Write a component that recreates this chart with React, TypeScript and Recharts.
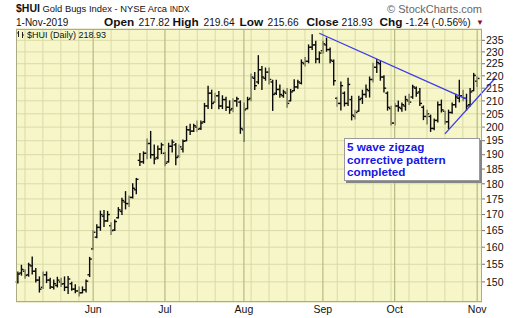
import { ComposedChart, Bar, XAxis, YAxis, CartesianGrid, ReferenceLine } from 'recharts';

// trading days shown on the chart (May 2 - Nov 1, 2019)
const tradingDays = [
    '2019-05-02', '2019-05-03', '2019-05-06', '2019-05-07', '2019-05-08', '2019-05-09', '2019-05-10',
    '2019-05-13', '2019-05-14', '2019-05-15', '2019-05-16', '2019-05-17', '2019-05-20', '2019-05-21',
    '2019-05-22', '2019-05-23', '2019-05-24', '2019-05-28', '2019-05-29', '2019-05-30', '2019-05-31',
    '2019-06-03', '2019-06-04', '2019-06-05', '2019-06-06', '2019-06-07', '2019-06-10', '2019-06-11',
    '2019-06-12', '2019-06-13', '2019-06-14', '2019-06-17', '2019-06-18', '2019-06-19', '2019-06-20',
    '2019-06-21', '2019-06-24', '2019-06-25', '2019-06-26', '2019-06-27', '2019-06-28',
    '2019-07-01', '2019-07-02', '2019-07-03', '2019-07-05', '2019-07-08', '2019-07-09', '2019-07-10',
    '2019-07-11', '2019-07-12', '2019-07-15', '2019-07-16', '2019-07-17', '2019-07-18', '2019-07-19',
    '2019-07-22', '2019-07-23', '2019-07-24', '2019-07-25', '2019-07-26', '2019-07-29', '2019-07-30',
    '2019-07-31',
    '2019-08-01', '2019-08-02', '2019-08-05', '2019-08-06', '2019-08-07', '2019-08-08', '2019-08-09',
    '2019-08-12', '2019-08-13', '2019-08-14', '2019-08-15', '2019-08-16', '2019-08-19', '2019-08-20',
    '2019-08-21', '2019-08-22', '2019-08-23', '2019-08-26', '2019-08-27', '2019-08-28', '2019-08-29',
    '2019-08-30',
    '2019-09-03', '2019-09-04', '2019-09-05', '2019-09-06', '2019-09-09', '2019-09-10', '2019-09-11',
    '2019-09-12', '2019-09-13', '2019-09-16', '2019-09-17', '2019-09-18', '2019-09-19', '2019-09-20',
    '2019-09-23', '2019-09-24', '2019-09-25', '2019-09-26', '2019-09-27', '2019-09-30',
    '2019-10-01', '2019-10-02', '2019-10-03', '2019-10-04', '2019-10-07', '2019-10-08', '2019-10-09',
    '2019-10-10', '2019-10-11', '2019-10-14', '2019-10-15', '2019-10-16', '2019-10-17', '2019-10-18',
    '2019-10-21', '2019-10-22', '2019-10-23', '2019-10-24', '2019-10-25', '2019-10-28', '2019-10-29',
    '2019-10-30', '2019-10-31',
    '2019-11-01',
];

const opens = [
    150.0, 152.5, 153.0, 152.0, 154.5, 153.0, 150.5, 148.5, 152.0, 150.5, 148.5, 149.0, 150.0, 149.5,
    148.5, 149.5, 148.0, 147.5, 147.0, 147.8, 152.0,
    159.5, 163.0, 166.0, 169.5, 168.0, 166.5, 165.2, 169.0, 171.0, 174.0, 173.5, 175.5, 178.0, 188.0,
    187.5, 190.5, 194.0, 190.0, 189.0, 192.0,
    190.5, 187.5, 193.0, 193.5, 189.5, 192.0, 195.0, 199.0, 198.5, 200.0, 199.5, 202.0, 208.0, 213.0,
    209.5, 212.0, 208.0, 210.5, 207.5, 207.0, 210.0, 209.5,
    199.0, 207.0, 211.0, 219.0, 217.5, 222.5, 219.0, 221.5, 217.5, 213.0, 214.5, 212.0, 213.0, 210.0,
    214.0, 215.5, 217.0, 225.0, 226.0, 232.0, 233.0, 227.0,
    230.5, 233.0, 231.0, 226.0, 211.0, 209.0, 213.0, 209.0, 210.5, 204.0, 206.0, 211.0, 212.5, 214.0,
    218.5, 223.5, 225.0, 219.5, 213.0, 207.0,
    201.5, 208.0, 207.0, 208.0, 210.0, 211.5, 215.0, 213.5, 207.5, 204.0, 204.0, 199.5, 202.5, 208.5,
    206.0, 202.0, 205.5, 208.5, 211.0, 212.0, 211.0, 208.5, 214.0,
    217.82,
];

const highs = [
    152.8, 154.7, 153.4, 155.3, 157.1, 153.8, 151.4, 152.8, 152.8, 151.0, 150.5, 151.3, 151.0, 151.4,
    151.5, 149.9, 149.2, 148.6, 148.6, 150.5, 157.0,
    165.0, 166.8, 171.1, 171.3, 171.0, 167.4, 168.3, 172.2, 175.2, 177.4, 176.0, 180.0, 181.8, 190.4,
    191.0, 195.6, 198.4, 193.5, 193.1, 194.1,
    190.9, 194.1, 195.3, 194.0, 193.5, 195.3, 200.3, 201.1, 201.1, 202.3, 202.3, 209.0, 215.8, 214.2,
    213.0, 213.7, 212.0, 211.4, 210.0, 210.8, 211.4, 210.0,
    209.2, 211.4, 220.7, 221.4, 228.4, 223.8, 223.2, 223.2, 218.2, 218.2, 216.3, 214.2, 214.9, 214.5,
    218.4, 218.2, 226.6, 227.6, 233.0, 237.5, 234.6, 230.0,
    234.6, 236.0, 231.7, 226.6, 211.4, 217.5, 213.5, 219.0, 211.8, 206.4, 211.8, 214.2, 216.3, 219.5,
    225.2, 226.8, 226.0, 220.0, 213.5, 207.9,
    209.0, 209.9, 209.2, 211.8, 212.6, 216.2, 215.5, 214.9, 208.0, 206.4, 204.5, 203.0, 209.6, 210.3,
    206.0, 206.4, 209.2, 212.6, 218.2, 214.2, 212.6, 214.9, 221.0,
    219.64,
];

const lows = [
    149.7, 151.9, 151.0, 151.6, 152.2, 150.0, 147.2, 148.2, 149.8, 148.2, 148.0, 148.6, 148.7, 147.6,
    146.8, 147.7, 147.0, 146.1, 147.0, 147.2, 151.5,
    159.2, 162.8, 165.1, 166.3, 167.9, 163.8, 165.0, 168.9, 170.0, 171.8, 172.6, 175.3, 176.7, 186.2,
    187.0, 188.6, 188.8, 186.8, 188.6, 190.4,
    186.2, 187.4, 191.0, 186.5, 189.0, 191.0, 195.0, 197.3, 198.4, 198.4, 199.1, 201.7, 207.0, 207.0,
    209.5, 206.9, 207.0, 206.3, 205.2, 205.8, 207.9, 197.7,
    194.7, 206.9, 210.0, 214.5, 216.8, 214.5, 218.2, 216.7, 206.3, 212.5, 211.4, 211.4, 207.5, 210.0,
    214.0, 215.0, 216.7, 224.0, 225.4, 231.0, 225.4, 225.4,
    229.5, 230.3, 225.4, 216.3, 207.9, 206.5, 208.0, 208.2, 202.7, 203.0, 206.0, 209.0, 211.4, 211.5,
    217.5, 221.4, 218.2, 213.5, 206.4, 200.8,
    200.8, 206.0, 206.0, 206.4, 208.6, 211.0, 211.8, 208.2, 202.8, 201.2, 198.4, 199.0, 201.9, 205.7,
    201.2, 199.5, 205.2, 207.5, 209.6, 210.0, 206.4, 208.0, 214.0,
    215.66,
];

const closes = [
    152.2, 153.5, 151.8, 154.8, 153.0, 150.5, 148.0, 152.0, 150.5, 148.6, 149.5, 150.5, 149.4, 148.5,
    150.8, 148.0, 147.5, 147.0, 147.8, 150.2, 156.5,
    164.5, 166.0, 170.0, 168.0, 170.0, 165.0, 167.8, 171.5, 174.5, 173.5, 175.5, 178.5, 181.5, 187.5,
    190.5, 194.0, 190.0, 188.5, 192.0, 193.5,
    187.0, 193.0, 194.5, 189.0, 192.8, 194.8, 199.0, 198.5, 200.5, 199.2, 201.5, 208.0, 213.0, 209.0,
    212.0, 208.0, 210.5, 207.5, 206.5, 210.0, 210.8, 199.5,
    206.5, 210.5, 219.5, 216.0, 222.5, 219.5, 221.5, 218.5, 212.5, 214.5, 212.5, 213.5, 209.0, 213.5,
    215.5, 217.5, 225.5, 226.0, 232.0, 233.0, 227.0, 229.5,
    233.5, 231.0, 226.5, 218.0, 209.0, 216.0, 209.0, 216.5, 204.5, 205.5, 210.5, 212.5, 214.5, 218.5,
    223.5, 225.5, 219.5, 215.0, 207.5, 201.5,
    208.0, 207.5, 208.5, 210.5, 209.5, 215.5, 213.0, 209.0, 204.0, 205.0, 199.5, 202.5, 208.5, 206.5,
    202.0, 205.5, 208.5, 211.5, 212.0, 211.0, 208.0, 213.5, 220.17,
    218.93,
];

const monthStarts = ['2019-06-03', '2019-07-01', '2019-08-01', '2019-09-03', '2019-10-01', '2019-11-01'];
const monthLabels = ['Jun', 'Jul', 'Aug', 'Sep', 'Oct', 'Nov'];
const weekStarts = [
    '2019-05-06', '2019-05-13', '2019-05-20', '2019-05-28', '2019-06-10', '2019-06-17', '2019-06-24',
    '2019-07-08', '2019-07-15', '2019-07-22', '2019-07-29', '2019-08-05', '2019-08-12', '2019-08-19',
    '2019-08-26', '2019-09-09', '2019-09-16', '2019-09-23', '2019-09-30', '2019-10-07', '2019-10-14',
    '2019-10-21', '2019-10-28',
];
const priceTicks = [150, 155, 160, 165, 170, 175, 180, 185, 190, 195, 200, 205, 210, 215, 220, 225, 230, 235];

// hand drawn trend lines (date, price)
const resistanceLine = [
    { x: '2019-08-30', y: 238.1 },
    { x: '2019-10-29', y: 210.7 },
];
const supportLine = [
    { x: '2019-10-21', y: 197.5 },
    { x: '2019-11-01', y: 211.1 },
];

const rows = tradingDays.map((date, i) => ({
    date,
    open: opens[i],
    high: highs[i],
    low: lows[i],
    close: closes[i],
}));

const FONT = '"Liberation Sans", Arial, sans-serif';

const OhlcBar = (props: any) => {
    const { x, y, width, height, payload } = props;
    if (x == null || y == null || !payload) return null;
    const cx = x + width / 2;
    const top = Math.min(y, y + height);
    const span = Math.abs(height);
    const lh = Math.log(payload.high);
    const ll = Math.log(payload.low);
    // log axis, so place the ticks in log space inside the bar
    const at = (v: number) => (lh === ll ? top : top + (span * (lh - Math.log(v))) / (lh - ll));
    return (
        <g stroke="#0c0c0c" strokeWidth={1.4}>
            <line x1={cx} x2={cx} y1={top - 0.5} y2={top + span + 0.5} />
            <line x1={cx - 2.2} x2={cx} y1={at(payload.open)} y2={at(payload.open)} />
            <line x1={cx} x2={cx + 2.2} y1={at(payload.close)} y2={at(payload.close)} />
        </g>
    );
};

// the support line runs on past the last bar, into the axis
const extendedLine = (ext: number) => (props: any) => {
    const { x1, y1, x2, y2 } = props;
    if (x1 == null || x2 == null) return null;
    return (
        <line
            x1={x1}
            y1={y1}
            x2={x1 + (x2 - x1) * ext}
            y2={y1 + (y2 - y1) * ext}
            stroke="#3b3bea"
            strokeWidth={1.3}
        />
    );
};

const App = () => {
    return (
        <div style={{ position: 'absolute', left: 0, top: 0, width: 520, height: 318, background: '#fff' }}>
            <ComposedChart
                width={520}
                height={318}
                data={rows}
                margin={{ top: 29, right: 0, bottom: 0, left: 16 }}
            >
                <CartesianGrid vertical={false} stroke="#d9daa8" fill="#f7f6c8" fillOpacity={1} />
                {weekStarts.map((d) => (
                    <ReferenceLine key={d} x={d} stroke="#d9daa8" strokeWidth={1} />
                ))}
                {monthStarts.map((d) => (
                    <ReferenceLine key={d} x={d} stroke="#b5bb82" strokeWidth={1.2} />
                ))}
                <XAxis
                    dataKey="date"
                    ticks={monthStarts}
                    interval={0}
                    tickFormatter={(v) => monthLabels[monthStarts.indexOf(v)]}
                    tickLine={false}
                    axisLine={false}
                    height={16}
                    tickSize={0}
                    tickMargin={4}
                    padding={{ left: 0, right: 3 }}
                    tick={{ fontSize: 10.5, fill: '#111', fontFamily: FONT }}
                />
                <YAxis
                    orientation="right"
                    scale="log"
                    domain={[144.5, 240]}
                    allowDataOverflow
                    ticks={priceTicks}
                    interval={0}
                    width={38}
                    tickSize={3}
                    tickMargin={1}
                    axisLine={false}
                    tickLine={{ stroke: '#777' }}
                    tick={{ fontSize: 10.5, fill: '#111', fontFamily: FONT }}
                />
                <Bar
                    dataKey={(d: any) => [d.low, d.high]}
                    shape={OhlcBar}
                    isAnimationActive={false}
                />
                <ReferenceLine
                    segment={resistanceLine}
                    ifOverflow="visible"
                    stroke="#3b3bea"
                    strokeWidth={1.3}
                />
                <ReferenceLine
                    segment={supportLine}
                    ifOverflow="visible"
                    shape={extendedLine(1.56)}
                />
            </ComposedChart>

            {/* plot frame */}
            <div
                style={{
                    position: 'absolute',
                    left: 16,
                    top: 29,
                    width: 466,
                    height: 273,
                    border: '1px solid #a9ac84',
                    boxSizing: 'border-box',
                    pointerEvents: 'none',
                }}
            />

            <svg
                width={520}
                height={318}
                style={{ position: 'absolute', left: 0, top: 0, pointerEvents: 'none' }}
                fontFamily={FONT}
            >
                <text x={16} y={12} fontSize={10.5} fontWeight="bold" fill="#111">$HUI</text>
                <text x={42.5} y={12} fontSize={9.4} fill="#111">
                    Gold Bugs Index - NYSE Arca <tspan fontSize={8.3}>INDX</tspan>
                </text>
                <text x={482} y={12.5} fontSize={11} fill="#666" textAnchor="end">© StockCharts.com</text>

                <text x={16} y={26} fontSize={10} fill="#111">1-Nov-2019</text>
                <g fontSize={10.2} fill="#111">
                    <text x={104} y={26} fontSize={11.8} fontWeight="bold">Open</text>
                    <text x={138.5} y={26}>217.82</text>
                    <text x={172.5} y={26} fontSize={11.8} fontWeight="bold">High</text>
                    <text x={203.5} y={26}>219.64</text>
                    <text x={239.5} y={26} fontSize={11.8} fontWeight="bold">Low</text>
                    <text x={267.5} y={26}>215.66</text>
                    <text x={306.5} y={26} fontSize={11.8} fontWeight="bold">Close</text>
                    <text x={341.5} y={26}>218.93</text>
                    <text x={379.5} y={26} fontSize={11.8} fontWeight="bold">Chg</text>
                    <text x={405.5} y={26}>-1.24</text>
                    <text x={431.5} y={26}>(-0.56%)</text>
                </g>
                <text x={476} y={25} fontSize={8} fill="#8c0c30">▼</text>

                <g stroke="#222" strokeWidth={1}>
                    <line x1={18.5} y1={31} x2={18.5} y2={37} />
                    <line x1={17} y1={33} x2={18.5} y2={33} />
                    <line x1={22.5} y1={32} x2={22.5} y2={38} />
                    <line x1={22.5} y1={35} x2={24} y2={35} />
                </g>
                <text x={27} y={37.5} fontSize={9} fill="#111">$HUI (Daily) 218.93</text>
            </svg>

            <div
                style={{
                    position: 'absolute',
                    left: 344,
                    top: 138,
                    width: 136,
                    height: 43,
                    background: '#fff',
                    border: '1px solid #9a9a9a',
                    boxShadow: '2px 2px 0 #858585',
                    boxSizing: 'border-box',
                    padding: '2px 0 0 2px',
                    fontFamily: FONT,
                    fontWeight: 'bold',
                    fontSize: 11.7,
                    lineHeight: '12.7px',
                    color: '#1717e4',
                    whiteSpace: 'nowrap',
                }}
            >
                5 wave zigzag
                <br />
                corrective pattern
                <br />
                completed
            </div>
        </div>
    );
};

export default App;
